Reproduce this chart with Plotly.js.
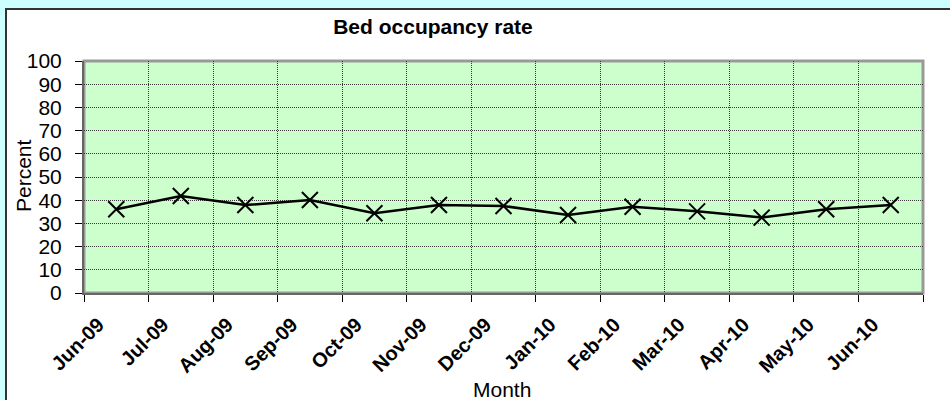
<!DOCTYPE html>
<html>
<head>
<meta charset="utf-8">
<script src="https://cdn.plot.ly/plotly-3.0.1.min.js"></script>
<style>html,body{margin:0;padding:0;background:#CCFFFF;}#chart{width:950px;height:400px;}</style>
</head>
<body>
<div id="chart"></div>
<script>
const months = ["Jun-09","Jul-09","Aug-09","Sep-09","Oct-09","Nov-09","Dec-09","Jan-10","Feb-10","Mar-10","Apr-10","May-10","Jun-10"];
const occupancy = [36.1, 41.8, 37.9, 40.1, 34.4, 37.9, 37.5, 33.6, 37.2, 35.2, 32.5, 36.1, 37.9];
const yTicks = [0,10,20,30,40,50,60,70,80,90,100];

const W = 950, H = 400;
const L = 84, R = 923, T = 61, B = 293;
const pw = R - L, ph = B - T;
const px = v => (v - L) / pw;
const py = v => (B - v) / ph;
const FONT = "Liberation Sans, Arial, sans-serif";

const trace = {
  x: months,
  y: occupancy,
  type: "scatter",
  mode: "lines+markers",
  line: {color: "#000000", width: 2.5},
  marker: {symbol: "x-thin-open", size: 16, color: "#000000", line: {color: "#000000", width: 2}},
  hoverinfo: "x+y"
};

const layout = {
  width: W, height: H,
  margin: {l: L, r: W - R, t: T, b: H - B, pad: 0},
  paper_bgcolor: "#CCFFFF",
  plot_bgcolor: "rgba(0,0,0,0)",
  showlegend: false,
  font: {family: FONT, color: "#000000"},
  xaxis: {
    type: "category",
    range: [-0.5, months.length - 0.5],
    tickson: "boundaries",
    ticks: "outside", ticklen: 7, tickcolor: "#000000", tickwidth: 1,
    showgrid: true, gridcolor: "#3a3a3a", griddash: "1px,1px", gridwidth: 1,
    showline: true, linecolor: "#666666", linewidth: 2,
    tickangle: -45,
    ticklabelstandoff: 10,
    ticklabelshift: -18,
    tickfont: {family: FONT, size: 20, color: "#000000", weight: "bold"},
    zeroline: false, fixedrange: true
  },
  yaxis: {
    range: [0, 100],
    tickvals: yTicks,
    ticks: "outside", ticklen: 7, tickcolor: "#000000", tickwidth: 1,
    ticklabelstandoff: 9,
    showgrid: true, gridcolor: "#3a3a3a", griddash: "1px,1px", gridwidth: 1,
    showline: true, linecolor: "#666666", linewidth: 2,
    tickfont: {family: FONT, size: 21, color: "#000000"},
    zeroline: false, fixedrange: true
  },
  title: {
    text: "Bed occupancy rate",
    font: {family: FONT, size: 21, color: "#000000", weight: "bold"},
    x: px(433), xref: "paper", xanchor: "center",
    y: (H - 27) / H, yref: "container", yanchor: "middle"
  },
  annotations: [
    {text: "Month", xref: "paper", yref: "paper", x: px(502), y: py(389),
     xanchor: "center", yanchor: "middle", showarrow: false,
     font: {family: FONT, size: 21, color: "#000000"}},
    {text: "Percent", xref: "paper", yref: "paper", x: px(23), y: py(176),
     xanchor: "center", yanchor: "middle", showarrow: false, textangle: -90,
     font: {family: FONT, size: 21, color: "#000000"}}
  ],
  shapes: [
    {type: "rect", layer: "below", xref: "paper", yref: "paper",
     x0: px(6), x1: px(962), y0: py(412), y1: py(9),
     fillcolor: "#FFFFFF", line: {color: "#333333", width: 2}},
    {type: "rect", layer: "below", xref: "paper", yref: "paper",
     x0: 0, x1: 1, y0: 0, y1: 1,
     fillcolor: "#CCFFCC", line: {color: "#999999", width: 3}}
  ]
};

Plotly.newPlot("chart", [trace], layout, {displayModeBar: false, staticPlot: true});
</script>
</body>
</html>
